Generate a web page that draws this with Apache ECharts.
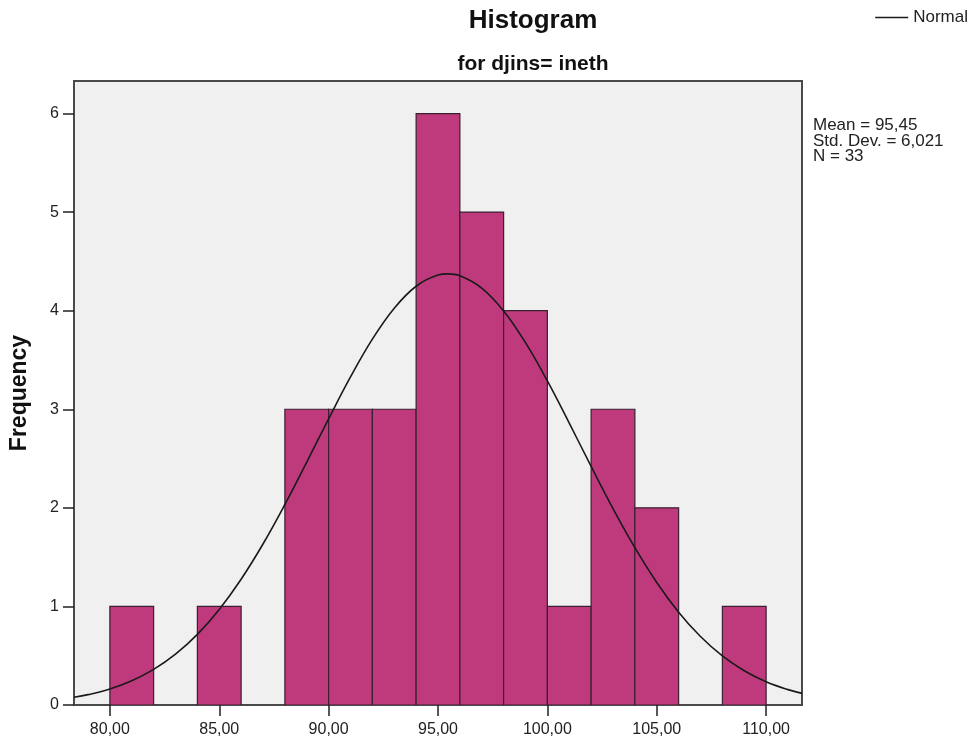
<!DOCTYPE html>
<html>
<head>
<meta charset="utf-8">
<script src="https://cdn.jsdelivr.net/npm/echarts@6/dist/echarts.min.js"></script>
<style>html,body{margin:0;padding:0;background:#fff;}#chart{width:975px;height:744px;}</style>
</head>
<body>
<div id="chart"></div>
<script>
// Histogram bins (edges) and frequencies
const binEdges = [80, 82, 84, 86, 88, 90, 92, 94, 96, 98, 100, 102, 104, 106, 108, 110];
const frequencies = [1, 0, 1, 0, 3, 3, 3, 6, 5, 4, 1, 3, 2, 0, 1];
// Normal curve
const curveX = [78.36, 79, 80, 81, 82, 83, 84, 85, 86, 87, 88, 89, 90, 91, 92, 93, 94, 95, 95.45, 96, 97, 98, 99, 100, 101, 102, 103, 104, 105, 106, 107, 108, 109, 110, 111, 111.64];
const curveY = [0.078, 0.105, 0.163, 0.246, 0.361, 0.516, 0.717, 0.970, 1.276, 1.633, 2.034, 2.464, 2.903, 3.328, 3.711, 4.025, 4.248, 4.361, 4.373, 4.355, 4.230, 3.998, 3.676, 3.287, 2.860, 2.420, 1.992, 1.596, 1.243, 0.942, 0.695, 0.498, 0.348, 0.236, 0.156, 0.118];
const xTicks = [80, 85, 90, 95, 100, 105, 110];
const yTicks = [0, 1, 2, 3, 4, 5, 6];
const statLines = ['Mean = 95,45', 'Std. Dev. = 6,021', 'N = 33'];

const FONT = 'Arial, "Liberation Sans", sans-serif';
const barData = frequencies.map((f, i) => [binEdges[i], binEdges[i + 1], f]);
const curveData = curveX.map((x, i) => [x, curveY[i]]);

const chart = echarts.init(document.getElementById('chart'), null, {renderer: 'canvas'});
chart.setOption({
  animation: false,
  backgroundColor: '#ffffff',
  title: [
    {text: 'Histogram', left: 528, top: 3, textAlign: 'center',
     textStyle: {fontFamily: FONT, fontSize: 26, fontWeight: 'bold', color: '#111'}},
    {text: 'for djins= ineth', left: 528, top: 49, textAlign: 'center',
     textStyle: {fontFamily: FONT, fontSize: 21, fontWeight: 'bold', color: '#111'}}
  ],
  legend: {
    data: ['Normal'], right: 2, top: 4, icon: 'rect', itemWidth: 33, itemHeight: 1.5, itemGap: 4,
    textStyle: {fontFamily: FONT, fontSize: 17, color: '#222'}
  },
  grid: {left: 71, right: 173, top: 81, bottom: 39, show: true,
         backgroundColor: '#f0f0f0', borderColor: '#4a4a4a', borderWidth: 2},
  xAxis: {
    type: 'value', min: 78.36, max: 111.64,
    splitLine: {show: false},
    axisLine: {show: true, lineStyle: {color: '#4a4a4a', width: 2}},
    axisTick: {show: true, length: 11, customValues: xTicks, lineStyle: {color: '#222', width: 1.5}},
    axisLabel: {customValues: xTicks, margin: 17, fontFamily: FONT, fontSize: 16, color: '#222',
                formatter: v => v.toFixed(2).replace('.', ',')}
  },
  yAxis: {
    type: 'value', min: 0, max: 6.33,
    name: 'Frequency', nameLocation: 'middle', nameGap: 43, nameRotate: 90,
    nameTextStyle: {fontFamily: FONT, fontSize: 23, fontWeight: 'bold', color: '#111'},
    splitLine: {show: false},
    axisLine: {show: true, lineStyle: {color: '#4a4a4a', width: 2}},
    axisTick: {show: true, length: 11, customValues: yTicks, lineStyle: {color: '#222', width: 1.5}},
    axisLabel: {customValues: yTicks, margin: 15, fontFamily: FONT, fontSize: 16, color: '#222'}
  },
  graphic: statLines.map((t, i) => ({
    type: 'text', left: 813, top: 117 + i * 15.5,
    style: {text: t, font: '17px ' + FONT, fill: '#222'}
  })),
  series: [
    {
      type: 'custom', name: 'Frequency', data: barData, clip: true,
      encode: {x: [0, 1], y: 2},
      renderItem: function (params, api) {
        const h = api.value(2);
        if (!h) return null;
        const p0 = api.coord([api.value(0), 0]);
        const p1 = api.coord([api.value(1), h]);
        return {
          type: 'rect',
          shape: {x: p0[0], y: p1[1], width: p1[0] - p0[0], height: p0[1] - p1[1]},
          style: {fill: '#be3a7c', stroke: '#3a2030', lineWidth: 1.2}
        };
      }
    },
    {
      type: 'line', name: 'Normal', data: curveData, smooth: 0.4, symbol: 'none',
      lineStyle: {color: '#1a1a1a', width: 1.6}, itemStyle: {color: '#1a1a1a'}, z: 5
    }
  ]
});
</script>
</body>
</html>
